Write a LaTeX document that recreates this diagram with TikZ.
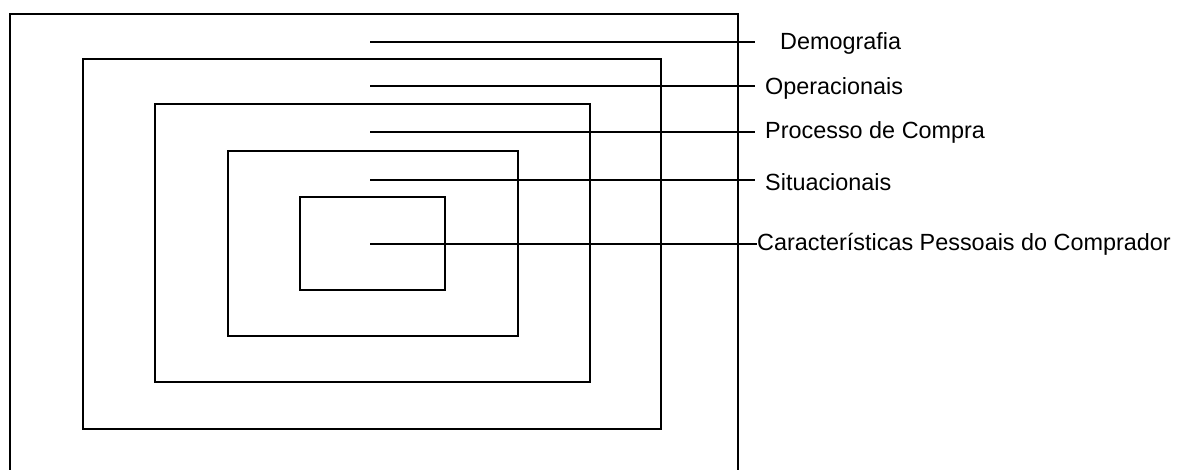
\documentclass[tikz,border=0pt]{standalone}
\usepackage{fontspec}
\setmainfont{Liberation Sans}
\begin{document}
\begin{tikzpicture}[x=1pt,y=-1pt,
  box/.style={draw=black,line width=2.2pt},
  lead/.style={draw=black,line width=1.8pt},
  lbl/.style={anchor=west,inner sep=0pt,font=\fontsize{23.4}{26}\selectfont}]
\useasboundingbox (0,0) rectangle (1185,470);
\begin{scope}
\clip (0,0) rectangle (1185,470);
\draw[box] (10,14) rectangle (738,490);
\end{scope}
\draw[box] (83,59) rectangle (661,429);
\draw[box] (155,104) rectangle (590,382);
\draw[box] (228,151) rectangle (518,336);
\draw[box] (300,197) rectangle (445,290);
% label nodes
\node[lbl] (l1) at (780,43) {Demografia};
\node[lbl] (l2) at (765,88) {Operacionais};
\node[lbl] (l3) at (765,132) {Processo de Compra};
\node[lbl] (l4) at (765,182) {Situacionais};
\node[lbl] (l5) at (757,244) {Características Pessoais do Comprador};
% leader start / end points
\coordinate (s1) at (370,42);  \coordinate (e1) at (755,42);
\coordinate (s2) at (370,86);  \coordinate (e2) at (755,86);
\coordinate (s3) at (370,132); \coordinate (e3) at (755,132);
\coordinate (s4) at (370,180); \coordinate (e4) at (755,180);
\coordinate (s5) at (370,244); \coordinate (e5) at (l5.west);
\draw[lead] (s1) -- (e1);
\draw[lead] (s2) -- (e2);
\draw[lead] (s3) -- (e3);
\draw[lead] (s4) -- (e4);
\draw[lead] (s5) -- (e5);
\end{tikzpicture}
\end{document}
